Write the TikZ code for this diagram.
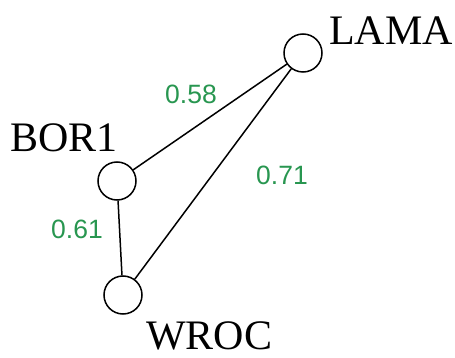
\documentclass[tikz,border=0pt]{standalone}
\usepackage{fontspec}
\setmainfont{Liberation Serif}
\newfontfamily\labelfont{Liberation Sans}
\definecolor{weightgreen}{RGB}{40,150,80}
\begin{document}
\begin{tikzpicture}[x=1pt,y=-1pt,
  station/.style={circle,draw=black,line width=1.5pt,minimum size=38pt,inner sep=0pt,fill=white},
  stname/.style={anchor=base west,inner sep=0pt,font=\fontsize{42}{42}\selectfont},
  weight/.style={anchor=base west,inner sep=0pt,text=weightgreen,font=\labelfont\fontsize{26.5}{26.5}\selectfont},
  link/.style={line width=1.5pt,draw=black}]
\useasboundingbox (0,0) rectangle (455,358);
% stations
\node[station] (lama) at (303,53) {};
\node[station] (bor) at (117,181) {};
\node[station] (wroc) at (123,295) {};
% station names
\node[stname] (lamaT) at (329,45) {LAMA};
\node[stname] (borT) at (10,152) {BOR1};
\node[stname] (wrocT) at (146,349) {WROC};
% links
\draw[link] (lama) -- (bor);
\draw[link] (lama) -- (wroc);
\draw[link] (bor) -- (wroc);
% link weights
\node[weight] (w1) at (165,104) {0.58};
\node[weight] (w2) at (256,185) {0.71};
\node[weight] (w3) at (51,238) {0.61};
\end{tikzpicture}
\end{document}
